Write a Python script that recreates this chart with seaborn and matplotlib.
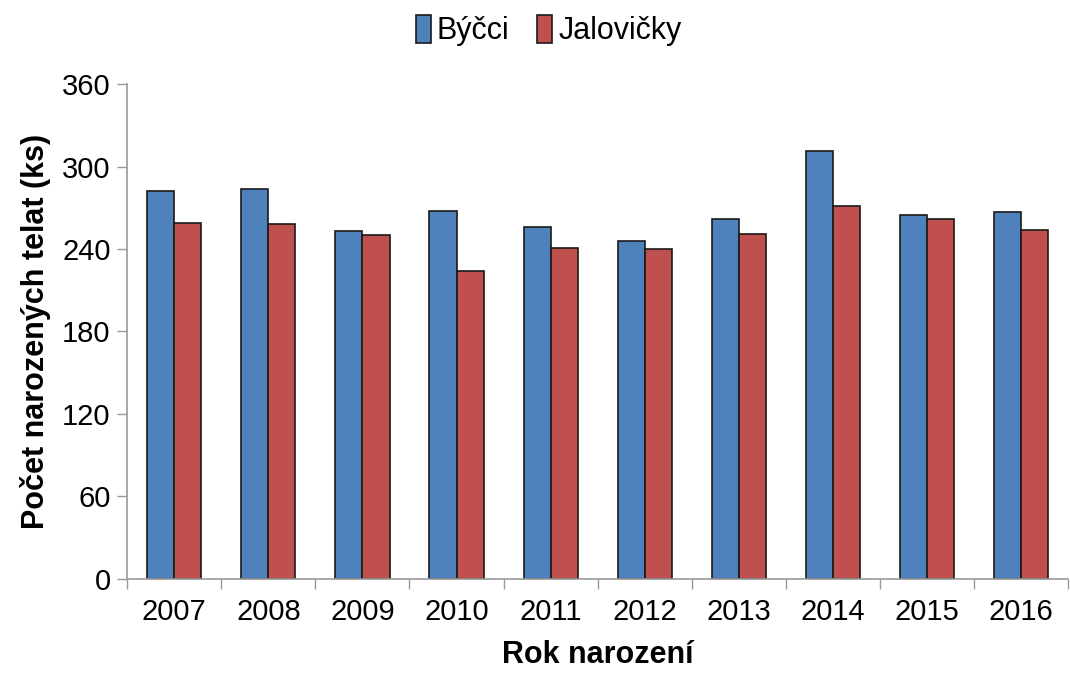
import matplotlib
matplotlib.use("Agg")
import matplotlib.pyplot as plt
import numpy as np
import pandas as pd
import seaborn as sns

years = ["2007", "2008", "2009", "2010", "2011", "2012", "2013", "2014", "2015", "2016"]
byci = [282, 284, 253, 268, 256, 246, 262, 311, 265, 267]
jalovicky = [259, 258, 250, 224, 241, 240, 251, 271, 262, 254]
series_names = ["Býčci", "Jalovičky"]
y_ticks = [0, 60, 120, 180, 240, 300, 360]

df = pd.DataFrame({
    "Rok": years * 2,
    "Počet": byci + jalovicky,
    "Pohlaví": [series_names[0]] * len(years) + [series_names[1]] * len(years),
})

sns.set_theme(style="white")
plt.rcParams["font.family"] = ["Liberation Sans", "DejaVu Sans"]
plt.rcParams["text.color"] = "black"
plt.rcParams["axes.labelcolor"] = "black"
plt.rcParams["xtick.color"] = "black"
plt.rcParams["ytick.color"] = "black"

fig, ax = plt.subplots(figsize=(10.7, 6.73), dpi=100)
fig.subplots_adjust(left=0.119, right=0.998, top=0.875, bottom=0.14)

sns.barplot(data=df, x="Rok", y="Počet", hue="Pohlaví", order=years,
            hue_order=series_names, palette=["#4F81BD", "#C0504D"],
            width=0.575, edgecolor="#1a1a1a", linewidth=1.2, saturation=1,
            ax=ax)

ax.set_ylim(0, 360)
ax.set_xlim(-0.5, len(years) - 0.5)
ax.set_yticks(y_ticks)
ax.set_yticklabels([str(v) for v in y_ticks], fontsize=21)
ax.tick_params(axis="x", which="major", length=0, labelsize=21, pad=14)
ax.set_xticks(np.arange(-0.5, len(years), 1.0), minor=True)
ax.tick_params(axis="x", which="minor", length=7, color="#999999", width=1, direction="out", bottom=True)
ax.tick_params(axis="y", length=7, color="#999999", width=1, direction="out", left=True, pad=5)

for side in ["top", "right"]:
    ax.spines[side].set_visible(False)
for side in ["left", "bottom"]:
    ax.spines[side].set_color("#999999")
    ax.spines[side].set_linewidth(1.2)

ax.set_xlabel("Rok narození", fontsize=22, fontweight="bold", labelpad=10)
ax.set_ylabel("Počet narozených telat (ks)", fontsize=22, fontweight="bold", labelpad=8)

ax.legend(loc="upper center", bbox_to_anchor=(0.448, 1.195), ncol=2, frameon=False,
          fontsize=22, handlelength=0.5, handleheight=1.0, handletextpad=0.2,
          columnspacing=0.9)

fig.savefig("out.png", dpi=100)
